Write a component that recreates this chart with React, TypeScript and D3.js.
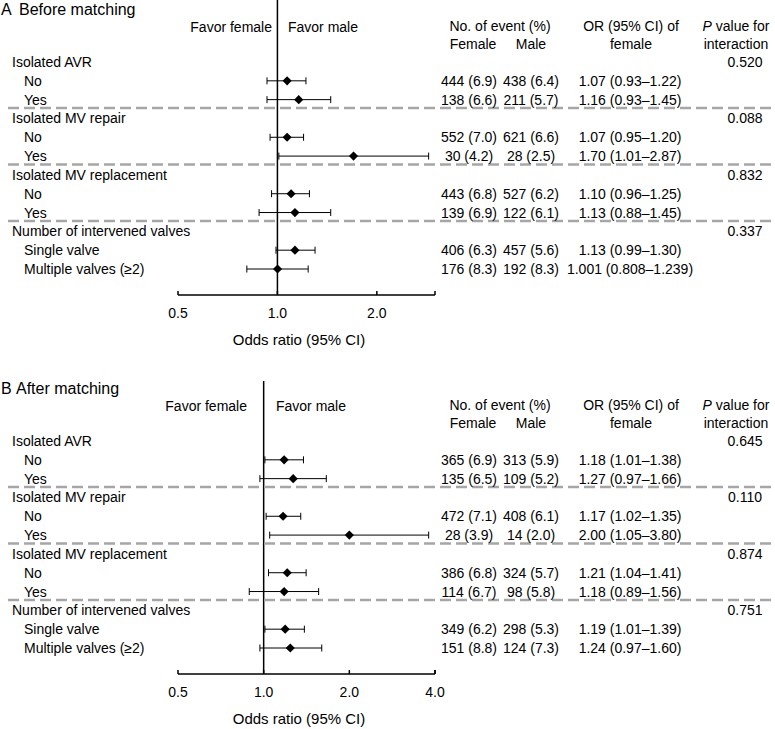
import * as d3 from 'd3'

const width = 775,
      height = 729,
      font = '"Liberation Sans", Arial, sans-serif'

const groups = ['Isolated AVR', 'Isolated MV repair', 'Isolated MV replacement', 'Number of intervened valves']
const subgroups = [['No', 'Yes'], ['No', 'Yes'], ['No', 'Yes'], ['Single valve', 'Multiple valves (≥2)']]

// panel A: before matching
const orA = [1.07, 1.16, 1.07, 1.70, 1.10, 1.13, 1.13, 1.001]
const lowA = [0.93, 0.93, 0.95, 1.01, 0.96, 0.88, 0.99, 0.808]
const highA = [1.22, 1.45, 1.20, 2.87, 1.25, 1.45, 1.30, 1.239]
const femaleA = ['444 (6.9)', '138 (6.6)', '552 (7.0)', '30 (4.2)', '443 (6.8)', '139 (6.9)', '406 (6.3)', '176 (8.3)']
const maleA = ['438 (6.4)', '211 (5.7)', '621 (6.6)', '28 (2.5)', '527 (6.2)', '122 (6.1)', '457 (5.6)', '192 (8.3)']
const orTextA = ['1.07 (0.93–1.22)', '1.16 (0.93–1.45)', '1.07 (0.95–1.20)', '1.70 (1.01–2.87)',
  '1.10 (0.96–1.25)', '1.13 (0.88–1.45)', '1.13 (0.99–1.30)', '1.001 (0.808–1.239)']
const pA = ['0.520', '0.088', '0.832', '0.337']
const ticksA = [0.5, 1, 2]

// panel B: after matching
const orB = [1.18, 1.27, 1.17, 2.00, 1.21, 1.18, 1.19, 1.24]
const lowB = [1.01, 0.97, 1.02, 1.05, 1.04, 0.89, 1.01, 0.97]
const highB = [1.38, 1.66, 1.35, 3.80, 1.41, 1.56, 1.39, 1.60]
const femaleB = ['365 (6.9)', '135 (6.5)', '472 (7.1)', '28 (3.9)', '386 (6.8)', '114 (6.7)', '349 (6.2)', '151 (8.8)']
const maleB = ['313 (5.9)', '109 (5.2)', '408 (6.1)', '14 (2.0)', '324 (5.7)', '98 (5.8)', '298 (5.3)', '124 (7.3)']
const orTextB = ['1.18 (1.01–1.38)', '1.27 (0.97–1.66)', '1.17 (1.02–1.35)', '2.00 (1.05–3.80)',
  '1.21 (1.04–1.41)', '1.18 (0.89–1.56)', '1.19 (1.01–1.39)', '1.24 (0.97–1.60)']
const pB = ['0.645', '0.110', '0.874', '0.751']
const ticksB = [0.5, 1, 2, 4]

const diamond = d3.symbol(d3.symbolSquare, 42)()

const Panel = ({ top, letter, title, titleX, or, low, high, female, male, orText, p, ticks, xMax, lineTop, favor }) => {
  const xScale = d3.scaleLog().domain([0.5, xMax]).range([178, 435])
  const yScale = d3.scaleLinear().domain([0, 11]).range([top + 62, top + 269])
  const axisY = top + 295
  const rowOf = i => Math.floor(i / 2) * 3 + 1 + (i % 2)

  return (
    <g fontFamily={font} fontSize={14} fill='#000'>
      <text x={1} y={top + 15} fontSize={16}>{letter}</text>
      <text x={titleX} y={top + 15} fontSize={16}>{title}</text>

      <line x1={xScale(1)} x2={xScale(1)} y1={lineTop} y2={axisY} stroke='#000' strokeWidth={1.5} />
      <text x={favor[0]} y={top + 32} textAnchor='end'>Favor female</text>
      <text x={favor[1]} y={top + 32}>Favor male</text>

      <g textAnchor='middle'>
        <text x={500} y={top + 31}>No. of event (%)</text>
        <text x={473} y={top + 49}>Female</text>
        <text x={531} y={top + 49}>Male</text>
        <text x={631} y={top + 31}>OR (95% CI) of</text>
        <text x={631} y={top + 49}>female</text>
        <text x={736} y={top + 31}><tspan fontStyle='italic'>P</tspan> value for</text>
        <text x={736} y={top + 49}>interaction</text>
      </g>

      {groups.map((g, gi) => (
        <g key={g}>
          {gi > 0 && <line x1={8} x2={width} y1={yScale(gi * 3 - 0.5) - 1} y2={yScale(gi * 3 - 0.5) - 1}
            stroke='#a6a6a6' strokeWidth={2.5} strokeDasharray='11 5' />}
          <text x={12} y={yScale(gi * 3) + 5}>{g}</text>
          <text x={745} y={yScale(gi * 3) + 5} textAnchor='middle'>{p[gi]}</text>
          {subgroups[gi].map((s, si) => (
            <text key={s} x={24} y={yScale(gi * 3 + 1 + si) + 5}>{s}</text>
          ))}
        </g>
      ))}

      {or.map((d, i) => {
        const y = yScale(rowOf(i))
        return (
          <g key={i}>
            <line x1={xScale(low[i])} x2={xScale(high[i])} y1={y} y2={y} stroke='#000' />
            <line x1={xScale(low[i])} x2={xScale(low[i])} y1={y - 3.5} y2={y + 3.5} stroke='#000' />
            <line x1={xScale(high[i])} x2={xScale(high[i])} y1={y - 3.5} y2={y + 3.5} stroke='#000' />
            <path d={diamond} transform={`translate(${xScale(d)},${y}) rotate(45)`} fill='#000' />
            <text x={469} y={y + 5} textAnchor='middle'>{female[i]}</text>
            <text x={531} y={y + 5} textAnchor='middle'>{male[i]}</text>
            <text x={630} y={y + 5} textAnchor='middle'>{orText[i]}</text>
          </g>
        )
      })}

      <g className='axis bottom'>
        <line x1={xScale(0.5)} x2={xScale(xMax)} y1={axisY} y2={axisY} stroke='#000' strokeWidth={1.5} />
        {[...ticks, xMax].map(t => (
          <line key={t} x1={xScale(t)} x2={xScale(t)} y1={axisY} y2={axisY - 4} stroke='#000' strokeWidth={1.5} />
        ))}
        {ticks.map(t => (
          <text key={t} x={xScale(t)} y={axisY + 23} textAnchor='middle'>{d3.format('.1f')(t)}</text>
        ))}
        <text x={299} y={axisY + 50} textAnchor='middle' fontSize={15}>Odds ratio (95% CI)</text>
      </g>
    </g>
  )
}

export default function App() {
  return (
    <svg width={width} height={height} style={{ position: 'absolute', left: 0, top: 0, background: '#fff' }}>
      <Panel top={0} letter='A' title='Before matching' titleX={19} or={orA} low={lowA} high={highA}
        female={femaleA} male={maleA} orText={orTextA} p={pA} ticks={ticksA} xMax={3}
        lineTop={0} favor={[272, 288]} />
      <Panel top={379} letter='B' title='After matching' titleX={16} or={orB} low={lowB} high={highB}
        female={femaleB} male={maleB} orText={orTextB} p={pB} ticks={ticksB} xMax={4}
        lineTop={381} favor={[247, 276]} />
    </svg>
  )
}
